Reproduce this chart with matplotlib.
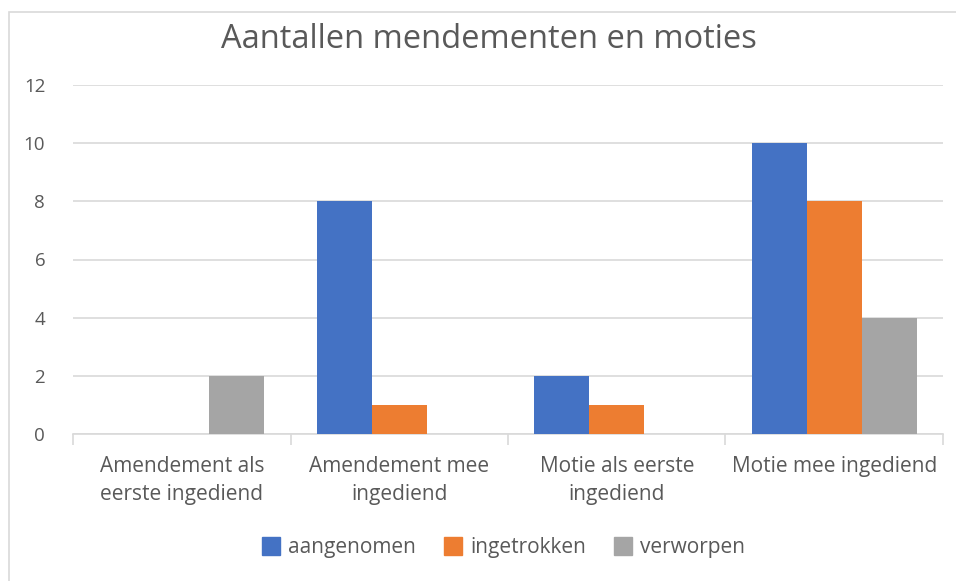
import matplotlib.pyplot as plt
import numpy as np
from matplotlib.patches import Rectangle
from matplotlib.lines import Line2D

categories = ["Amendement als\neerste ingediend", "Amendement mee\ningediend",
              "Motie als eerste\ningediend", "Motie mee ingediend"]
series_names = ["aangenomen", "ingetrokken", "verworpen"]
aangenomen = [0, 8, 2, 10]
ingetrokken = [0, 1, 1, 8]
verworpen = [2, 0, 0, 4]
yticks = [0, 2, 4, 6, 8, 10, 12]

colors = ["#4472C4", "#ED7D31", "#A5A5A5"]
txt = "#595959"
plt.rcParams['font.family'] = ['Open Sans', 'DejaVu Sans']

fig = plt.figure(figsize=(9.56, 5.81), dpi=100)
fig.patches.append(Rectangle((9/956, -0.1), 1.2, 1 - 12/581 + 0.1, transform=fig.transFigure,
                             fill=False, edgecolor="#D9D9D9", linewidth=1.2))
ax = fig.add_axes([73/956, 1 - 434/581, 870/956, 349/581])

x = np.arange(len(categories))
w = 0.253
for i, (vals, c) in enumerate(zip([aangenomen, ingetrokken, verworpen], colors)):
    ax.bar(x + (i - 1) * w, vals, width=w, color=c, label=series_names[i], zorder=3)

ax.set_xlim(-0.5, len(categories) - 0.5)
ax.set_ylim(0, 12)
ax.set_yticks(yticks)
ax.set_yticklabels([str(t) for t in yticks], color=txt, fontsize=13.5)
ax.grid(axis='y', color="#D9D9D9", linewidth=1.2, zorder=0)
for s in ['top', 'right', 'left']:
    ax.spines[s].set_visible(False)
ax.spines['bottom'].set_color("#D9D9D9")
ax.spines['bottom'].set_linewidth(1.2)
ax.tick_params(axis='y', length=0, pad=20)

ax.set_xticks(x)
ax.set_xticklabels(categories, color=txt, fontsize=15, linespacing=1.45)
ax.tick_params(axis='x', length=0, pad=16)
ax.set_xticks(np.arange(-0.5, len(categories)), minor=True)
ax.tick_params(axis='x', which='minor', length=8, color="#D9D9D9", width=1.2)

ax.text(489/956, 1 - 40/581, "Aantallen mendementen en moties", fontsize=23.5, color=txt,
        ha='center', va='center', transform=fig.transFigure)

handles = [Line2D([], [], marker='s', linestyle='none', markersize=13,
                  markerfacecolor=c, markeredgecolor=c) for c in colors]
fig.legend(handles, series_names, loc='center', bbox_to_anchor=(503/956, 1 - 548/581),
           ncol=3, frameon=False, fontsize=15, labelcolor=txt, handletextpad=0.3,
           columnspacing=1.3, handlelength=1.0)

fig.savefig("out.png", dpi=100)
